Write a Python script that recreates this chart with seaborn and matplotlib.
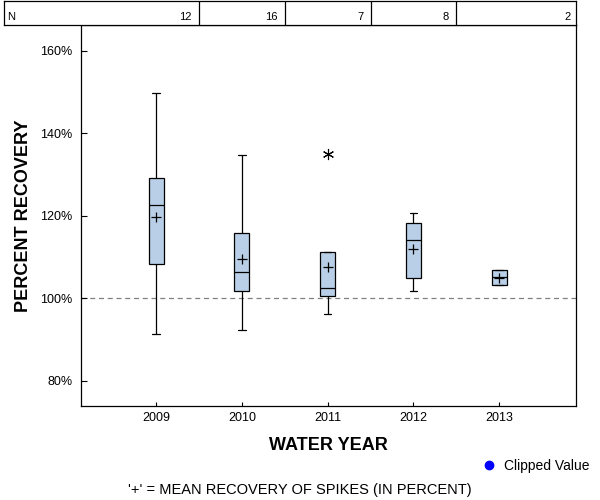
import pandas as pd
import numpy as np
import matplotlib
matplotlib.use("Agg")
import matplotlib.pyplot as plt
from matplotlib.lines import Line2D
from matplotlib.ticker import FuncFormatter
import seaborn as sns

# DATA (percent recovery of spikes)

years = [2009, 2010, 2011, 2012, 2013]
n_samples = [12, 16, 7, 8, 2]
low = [91.3, 92.3, 96.2, 101.7, 103.2]
q1 = [108.3, 101.7, 100.5, 104.9, 103.2]
median = [122.6, 106.3, 102.5, 114.1, 105.1]
q3 = [129.1, 115.7, 111.2, 118.2, 106.8]
high = [149.7, 134.6, 134.9, 120.6, 106.8]   # 2011 high value is the outlier
means = [119.6, 109.6, 107.5, 112.0, 104.9]

yticks = [80, 100, 120, 140, 160]

rows = []
for yr, a, b, c, d, e in zip(years, low, q1, median, q3, high):
    for v in (a, b, c, d, e):
        rows.append((yr, v))
df = pd.DataFrame(rows, columns=["year", "recovery"])

# STYLE

sns.set_style("ticks")
plt.rcParams["font.family"] = ["Liberation Sans", "DejaVu Sans"]
plt.rcParams["text.color"] = "black"
plt.rcParams["axes.labelcolor"] = "black"
plt.rcParams["xtick.color"] = "black"
plt.rcParams["ytick.color"] = "black"

box_color = "#b9cfe8"

fig = plt.figure(figsize=(6, 5), dpi=100)

# main axes in pixel terms of the 600x500 picture
ax_l, ax_r, ax_b, ax_t = 80.7, 575.5, 406, 25
ax = fig.add_axes([ax_l / 600, 1 - ax_b / 500, (ax_r - ax_l) / 600, (ax_b - ax_t) / 500])

sns.boxplot(data=df, x="year", y="recovery", native_scale=True,
            width=0.175, color=box_color, saturation=1,
            linecolor="black", linewidth=0.9,
            flierprops={"marker": (6, 2, 0), "markersize": 8,
                        "markeredgecolor": "black", "markeredgewidth": 0.8},
            ax=ax)

sns.scatterplot(x=years, y=means, marker="+", s=60, color="black",
                linewidth=0.9, legend=False, ax=ax, zorder=5)

ax.axhline(100, color="#808080", ls=(0, (4, 3)), lw=0.9, zorder=0)

x_lo, x_hi = 2008.12, 2013.89
ax.set_xlim(x_lo, x_hi)
ax.set_ylim(73.9, 166.2)
ax.set_xticks(years)
ax.set_xticklabels([str(y) for y in years])
ax.set_yticks(yticks)
ax.yaxis.set_major_formatter(FuncFormatter(lambda v, p: f"{v:.0f}%"))
ax.tick_params(axis="y", direction="in", length=4.5, width=0.8, labelsize=9, pad=6)
ax.tick_params(axis="x", direction="in", length=3, width=0.8, labelsize=9, pad=4)
for s in ax.spines.values():
    s.set_visible(True)
    s.set_linewidth(0.9)
    s.set_color("black")

ax.set_xlabel("WATER YEAR", fontsize=13, fontweight="bold", labelpad=10)
ax.set_ylabel("PERCENT RECOVERY", fontsize=13, fontweight="bold", labelpad=6)

# N TABLE ABOVE THE PLOT

units_per_px = (x_hi - x_lo) / (ax_r - ax_l)
tab_l, tab_r = 4, 576
tab = fig.add_axes([tab_l / 600, 1 - 25 / 500, (tab_r - tab_l) / 600, 24 / 500])
tab_lo = x_lo - (ax_l - tab_l) * units_per_px
tab_hi = x_hi + (tab_r - ax_r) * units_per_px
tab.set_xlim(tab_lo, tab_hi)
tab.set_ylim(0, 1)
tab.set_xticks([])
tab.set_yticks([])
for s in tab.spines.values():
    s.set_visible(True)
    s.set_linewidth(0.9)
    s.set_color("black")

for yr in years[:-1]:
    tab.axvline(yr + 0.5, color="black", lw=0.9)

tab.text(tab_lo + 3.5 * units_per_px, 0.21, "N", fontsize=8, va="baseline", ha="left")
for i, (yr, n) in enumerate(zip(years, n_samples)):
    if i < len(years) - 1:
        xr = yr + 0.5 - 7.5 * units_per_px
    else:
        xr = tab_hi - 5 * units_per_px
    tab.text(xr, 0.21, str(n), fontsize=8, va="baseline", ha="right")

# LEGEND AND FOOTNOTE

fig.legend(handles=[Line2D([], [], marker="o", ls="", color="blue", markersize=6)],
           labels=["Clipped Value"], loc="center left",
           bbox_to_anchor=(482 / 600, 1 - 466 / 500), frameon=False,
           fontsize=10, handlelength=1.0, handletextpad=0.6,
           borderpad=0, borderaxespad=0)

fig.text(0.5, 1 - 490 / 500, "'+' = MEAN RECOVERY OF SPIKES (IN PERCENT)",
         fontsize=10.5, ha="center", va="center")

fig.savefig("out.png", dpi=100)
